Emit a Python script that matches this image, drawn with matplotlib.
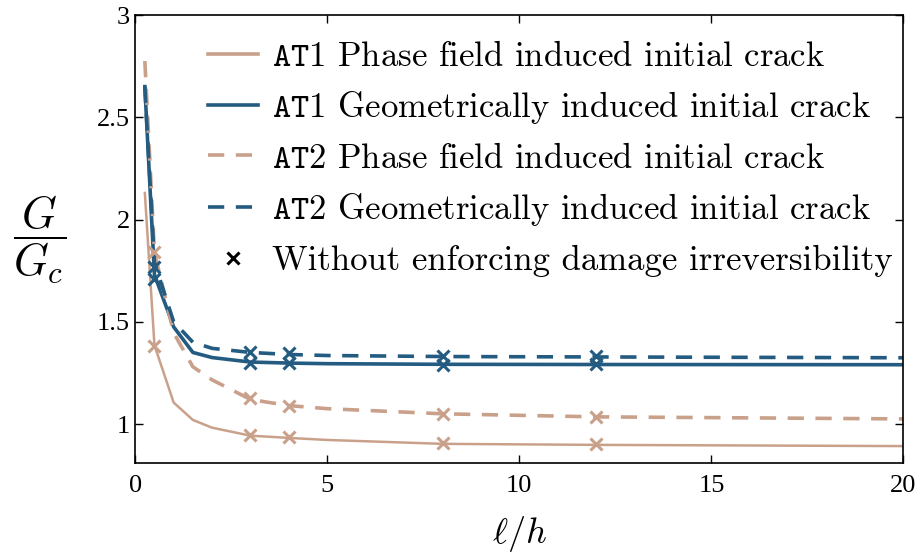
import matplotlib
matplotlib.use("Agg")
import matplotlib.pyplot as plt
from matplotlib.lines import Line2D

plt.rcParams["mathtext.fontset"] = "cm"
plt.rcParams["axes.unicode_minus"] = False

# length ratio l/h used for the simulations
lh = [0.25, 0.5, 1, 1.5, 2, 3, 4, 5, 8, 12, 20]

at1_phase = [2.13, 1.385, 1.105, 1.02, 0.982, 0.943, 0.932, 0.922, 0.903, 0.898, 0.892]
at1_geom = [2.65, 1.73, 1.475, 1.35, 1.325, 1.303, 1.298, 1.295, 1.292, 1.291, 1.29]
at2_phase = [2.775, 1.84, 1.446, 1.28, 1.216, 1.12, 1.09, 1.075, 1.05, 1.035, 1.025]
at2_geom = [2.65, 1.79, 1.50, 1.40, 1.37, 1.35, 1.34, 1.335, 1.33, 1.328, 1.324]

# runs without enforcing damage irreversibility
lh_noirr = [0.5, 3, 4, 8, 12]
at1_phase_noirr = [1.38, 0.945, 0.935, 0.905, 0.90]
at1_geom_noirr = [1.71, 1.30, 1.30, 1.29, 1.295]
at2_phase_noirr = [1.84, 1.125, 1.09, 1.05, 1.035]
at2_geom_noirr = [1.77, 1.35, 1.345, 1.335, 1.335]

tan = "#c9a18b"
blue = "#245b80"
dash = (0, (4.5, 3.2))

fig = plt.figure(figsize=(9.2, 5.57), dpi=100)
ax = fig.add_axes([0.147, 0.169, 0.835, 0.804])

ax.plot(lh, at1_phase, color=tan, lw=1.8)
ax.plot(lh, at1_geom, color=blue, lw=2.6)
ax.plot(lh, at2_phase, color=tan, lw=2.6, ls=dash)
ax.plot(lh, at2_geom, color=blue, lw=2.6, ls=dash)

mk = dict(marker="x", ls="none", ms=9, mew=2.2)
ax.plot(lh_noirr, at1_phase_noirr, color=tan, **mk)
ax.plot(lh_noirr, at2_phase_noirr, color=tan, **mk)
ax.plot(lh_noirr, at1_geom_noirr, color=blue, **mk)
ax.plot(lh_noirr, at2_geom_noirr, color=blue, **mk)

ax.set_xlim(0, 20)
ax.set_ylim(0.81, 3)
ax.set_xticks([0, 5, 10, 15, 20])
ax.set_yticks([1, 1.5, 2, 2.5, 3])
ax.set_xticklabels(["0", "5", "10", "15", "20"])
ax.set_yticklabels(["1", "1.5", "2", "2.5", "3"])
ax.tick_params(direction="in", top=True, right=True, length=6, width=1,
               labelsize=19)
ax.tick_params(axis="x", pad=9)
ax.tick_params(axis="y", pad=4)
for lbl in ax.get_xticklabels() + ax.get_yticklabels():
    lbl.set_family("Liberation Serif")
for s in ax.spines.values():
    s.set_linewidth(1.2)

ax.set_xlabel(r"$\ell/h$", fontsize=26, va="center")
ax.xaxis.set_label_coords(0.5, -0.158)
ax.set_ylabel(r"$\dfrac{G}{G_c}$", fontsize=32, rotation=0, ha="center", va="center")
ax.yaxis.set_label_coords(-0.125, 0.5)

handles = [
    Line2D([], [], color=tan, lw=2.6),
    Line2D([], [], color=blue, lw=2.6),
    Line2D([], [], color=tan, lw=2.6, ls=dash),
    Line2D([], [], color=blue, lw=2.6, ls=dash),
    Line2D([], [], color="black", marker="x", ls="none", ms=8, mew=2.2),
]
labels = [
    r"$\mathtt{AT1}$ Phase field induced initial crack",
    r"$\mathtt{AT1}$ Geometrically induced initial crack",
    r"$\mathtt{AT2}$ Phase field induced initial crack",
    r"$\mathtt{AT2}$ Geometrically induced initial crack",
    "Without enforcing damage irreversibility",
]
ax.legend(handles, labels, loc="upper right", bbox_to_anchor=(1.004, 0.973),
          frameon=False, prop={"family": "cmr10", "size": 25},
          handlelength=1.45, handletextpad=0.4, labelspacing=0.48,
          borderaxespad=0)

fig.savefig("out.png", dpi=100)
